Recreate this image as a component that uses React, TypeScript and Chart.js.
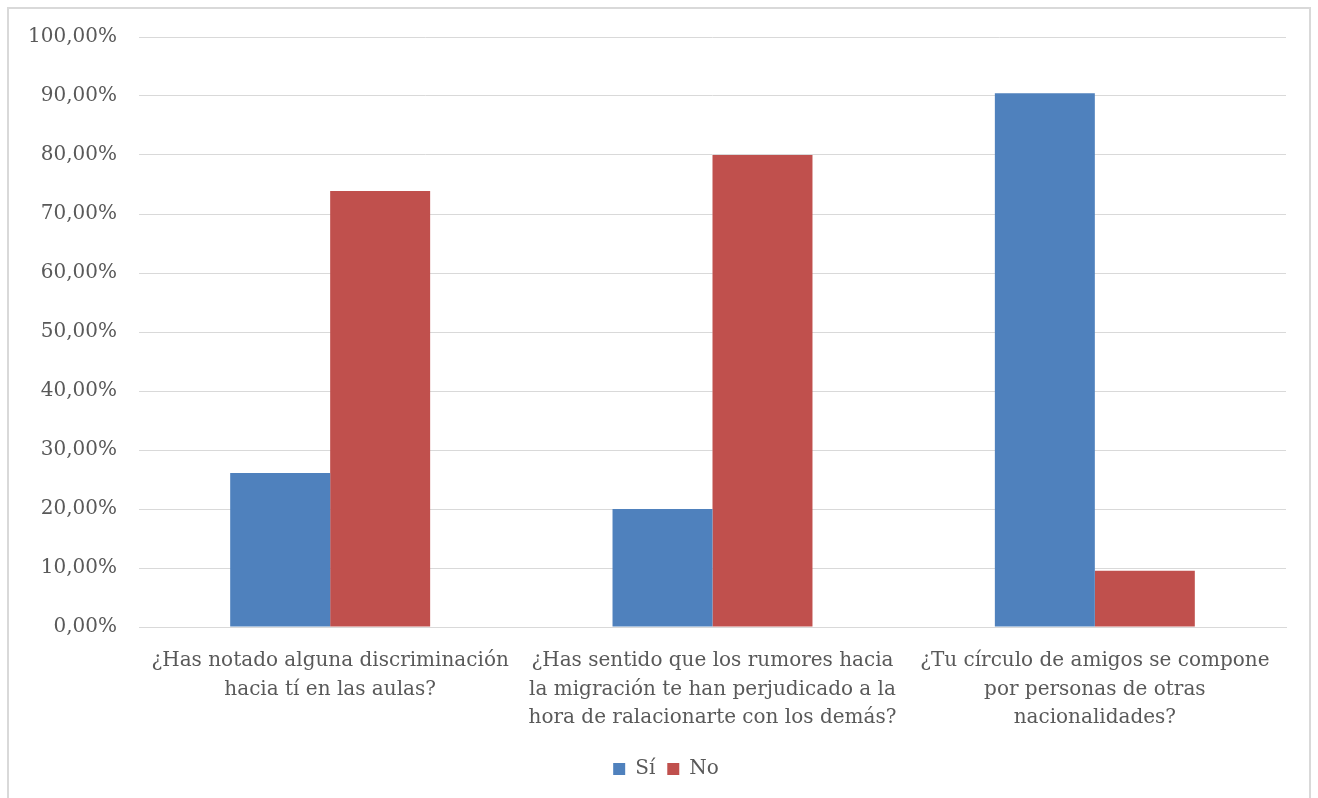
import React, { useEffect, useRef } from "react";
import { Chart, registerables } from "chart.js";
Chart.register(...registerables);

const categories: string[][] = [
  ["¿Has notado alguna discriminación", "hacia tí en las aulas?"],
  ["¿Has sentido que los rumores hacia", "la migración te han perjudicado a la", "hora de ralacionarte con los demás?"],
  ["¿Tu círculo de amigos se compone", "por personas de otras", "nacionalidades?"],
];
const siValues = [26.09, 20.0, 90.48];
const noValues = [73.91, 80.0, 9.52];
const seriesNames = ["Sí", "No"];
const yTicks = [0, 10, 20, 30, 40, 50, 60, 70, 80, 90, 100];

const FONT = "'DejaVu Serif', serif";

const legendShift = {
  id: "legendShift",
  afterLayout(chart: any) {
    const lg = chart.legend;
    if (lg) {
      lg.left += 23;
      lg.right += 23;
    }
  },
};

export default function App() {
  const ref = useRef<HTMLCanvasElement>(null);
  useEffect(() => {
    if (!ref.current) return;
    const chart = new Chart(ref.current, {
      type: "bar",
      data: {
        labels: categories,
        datasets: [
          { label: seriesNames[0], data: siValues, backgroundColor: "#4f81bd" },
          { label: seriesNames[1], data: noValues, backgroundColor: "#c0504d" },
        ],
      },
      options: {
        responsive: false,
        animation: false,
        layout: { padding: { left: 0, right: 32, top: 37, bottom: 9 } },
        datasets: { bar: { categoryPercentage: 0.523, barPercentage: 1 } },
        plugins: {
          tooltip: { enabled: false },
          legend: {
            position: "bottom",
            labels: {
              boxWidth: 12,
              boxHeight: 12,
              padding: 12,
              color: "#595959",
              font: { family: FONT, size: 20 },
            },
          },
        },
        scales: {
          x: {
            grid: { display: false, drawTicks: false },
            border: { display: true, color: "#d9d9d9", width: 1 },
            ticks: {
              color: "#595959",
              font: { family: FONT, size: 20, lineHeight: 1.42 },
              padding: 20,
              maxRotation: 0,
              autoSkip: false,
            },
            afterFit: (s: any) => {
              s.height = 120;
            },
          },
          y: {
            min: 0,
            max: 100,
            afterBuildTicks: (s: any) => {
              s.ticks = yTicks.map((v) => ({ value: v }));
            },
            grid: { color: "#d9d9d9", lineWidth: 1, drawTicks: false },
            border: { display: false },
            ticks: {
              color: "#595959",
              font: { family: FONT, size: 20 },
              padding: 22,
              callback: (v: any) => Number(v).toFixed(2).replace(".", ",") + "%",
            },
            afterFit: (s: any) => {
              s.width = 139;
            },
          },
        },
      },
      plugins: [legendShift],
    });
    return () => chart.destroy();
  }, []);
  return (
    <div style={{ position: "fixed", left: 0, top: 0, width: 1318, height: 798, background: "#fff", overflow: "hidden" }}>
      <div
        style={{
          position: "absolute",
          left: 7,
          top: 7,
          width: 1304,
          height: 800,
          border: "2px solid #d9d9d9",
          boxSizing: "border-box",
        }}
      />
      <canvas ref={ref} width={1318} height={798} style={{ position: "absolute", left: 0, top: 0 }} />
    </div>
  );
}
